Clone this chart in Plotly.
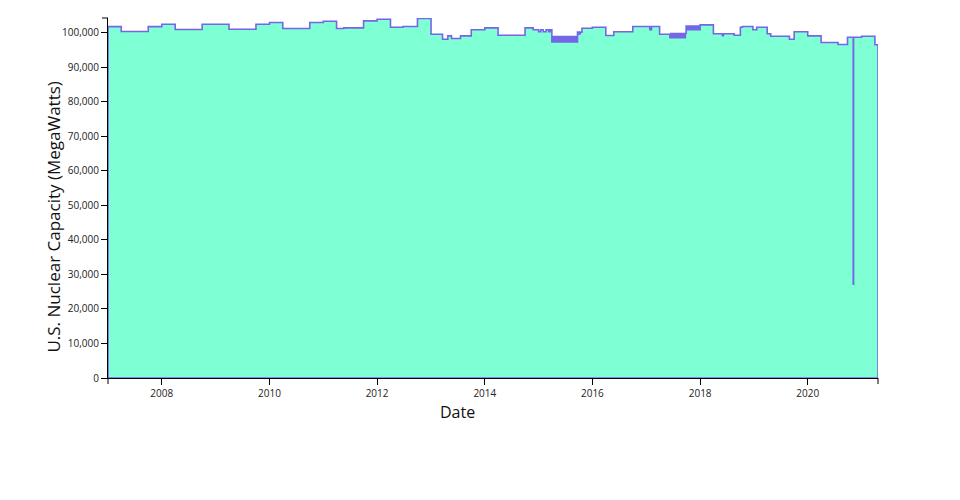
import plotly.graph_objects as go

# Step change points: (date, capacity in MW)
dates = [
    "2007-01-01", "2007-04-01", "2007-10-01",
    "2008-01-01", "2008-04-01", "2008-10-01",
    "2009-04-01", "2009-10-01",
    "2010-01-01", "2010-04-01", "2010-10-01",
    "2011-01-01", "2011-04-01", "2011-05-20", "2011-10-01",
    "2012-01-01", "2012-04-01", "2012-06-25", "2012-10-01",
    "2013-01-01", "2013-03-20", "2013-04-25", "2013-05-20", "2013-07-20", "2013-10-01",
    "2014-01-01", "2014-04-01", "2014-10-01", "2014-11-25",
    "2015-01-01", "2015-01-15", "2015-02-01", "2015-02-20", "2015-03-10", "2015-03-20",
    "2015-04-01", "2015-04-08", "2015-04-15", "2015-04-22", "2015-04-29",
    "2015-05-06", "2015-05-13", "2015-05-20", "2015-05-27",
    "2015-06-03", "2015-06-10", "2015-06-17", "2015-06-24",
    "2015-07-01", "2015-07-08", "2015-07-15", "2015-07-22", "2015-07-29",
    "2015-08-05", "2015-08-12", "2015-08-19", "2015-08-26",
    "2015-09-02", "2015-09-09", "2015-09-16",
    "2015-09-22", "2015-10-01", "2015-10-10", "2015-10-22",
    "2016-01-01", "2016-04-01", "2016-05-25", "2016-10-01",
    "2017-01-25", "2017-02-05", "2017-04-01",
    "2017-06-10", "2017-06-17", "2017-06-24", "2017-07-01", "2017-07-08",
    "2017-07-15", "2017-07-22", "2017-07-29", "2017-08-05", "2017-08-12",
    "2017-08-19", "2017-08-26", "2017-09-02", "2017-09-09", "2017-09-16",
    "2017-09-23",
    "2017-09-28", "2017-10-05", "2017-10-12", "2017-10-19", "2017-10-26",
    "2017-11-02", "2017-11-09", "2017-11-16", "2017-11-23", "2017-11-30",
    "2017-12-07", "2017-12-14", "2017-12-21", "2017-12-28",
    "2018-01-01", "2018-04-01", "2018-06-01", "2018-06-08", "2018-08-20",
    "2018-10-01", "2018-10-15", "2018-12-25",
    "2019-01-20", "2019-04-01", "2019-04-25", "2019-08-30", "2019-10-01",
    "2020-01-01", "2020-04-01", "2020-07-25", "2020-09-27",
    "2020-11-05", "2020-11-07",
    "2021-01-01", "2021-04-01",
]
capacity = [
    101700, 100300, 101700,
    102400, 100870, 102400,
    100960, 102400,
    102890, 101150, 102890,
    103260, 101150, 101350, 103370,
    103850, 101540, 101730, 104100,
    99510, 98060, 99040, 98270, 99040, 100780,
    101350, 99220, 101350, 100780,
    100200, 100780, 100200, 100780, 100200, 100780,
    97300, 98800, 97300, 98800, 97300,
    98800, 97300, 98800, 97300,
    98800, 97300, 98800, 97300,
    98800, 97300, 98800, 97300, 98800,
    97300, 98800, 97300, 98800,
    97300, 98800, 97300,
    100100, 99600, 100100, 101250,
    101540, 99130, 100200, 101730,
    100780, 101730, 99510,
    98500, 99700, 98500, 99700, 98500,
    99700, 98500, 99700, 98500, 99700,
    98500, 99700, 98500, 99700, 98500,
    99700,
    101900, 100800, 101900, 100800, 101900,
    100800, 101900, 100800, 101900, 100800,
    101900, 100800, 101900, 100800,
    102200, 99620, 99100, 99620, 99220,
    101540, 101730, 100780,
    101540, 99620, 98930, 98060, 100200,
    99040, 97110, 96530, 98640,
    27170, 98640,
    98900, 96440,
]
end_date = "2021-04-22"

y_ticks = [0, 10000, 20000, 30000, 40000, 50000, 60000, 70000, 80000, 90000, 100000]
y_max = 104200

xs = [dates[0]] + dates + [end_date, end_date, dates[0]]
ys = [0] + capacity + [capacity[-1], 0, 0]

fig = go.Figure()
fig.add_trace(go.Scatter(
    x=xs, y=ys, mode="lines", line=dict(shape="hv", color="#7466e6", width=1.6),
    fill="toself", fillcolor="#7fffd4", hoverinfo="skip", showlegend=False,
))

axis_common = dict(
    showline=True, linecolor="black", linewidth=1, ticks="outside", ticklen=6,
    tickcolor="black", showgrid=False, zeroline=False, layer="below traces",
    tickfont=dict(family="Open Sans", size=10, color="#222"),
)
fig.update_xaxes(type="date", range=[dates[0], end_date], tick0="2008-01-01",
                 dtick="M24", tickformat="%Y", **axis_common)
fig.update_yaxes(range=[0, y_max], tickvals=y_ticks, tickformat=",", **axis_common)

shapes = [
    dict(type="line", xref="paper", yref="paper", xsizemode="pixel", xanchor=0,
         x0=-6, x1=0, y0=1, y1=1, line=dict(color="black", width=1)),
    dict(type="line", xref="paper", yref="paper", ysizemode="pixel", yanchor=0,
         x0=0, x1=0, y0=0, y1=-6, line=dict(color="black", width=1)),
    dict(type="line", xref="paper", yref="paper", ysizemode="pixel", yanchor=0,
         x0=1, x1=1, y0=0, y1=-6, line=dict(color="black", width=1)),
]

fig.update_layout(
    width=960, height=500, paper_bgcolor="white", plot_bgcolor="white",
    margin=dict(l=100, r=90, t=10, b=130),
    font=dict(family="Open Sans", color="#111"),
    shapes=shapes,
    annotations=[
        dict(text="Date", xref="paper", yref="paper", x=0.4545, y=0, yshift=-34,
             xanchor="center", yanchor="middle", showarrow=False,
             font=dict(size=16, color="#111")),
        dict(text="U.S. Nuclear Capacity (MegaWatts)", xref="paper", yref="paper",
             x=-0.0708, y=0.447, xanchor="center", yanchor="middle", textangle=-90,
             showarrow=False, font=dict(size=17, color="#111")),
    ],
)

fig.write_html("out.html")
